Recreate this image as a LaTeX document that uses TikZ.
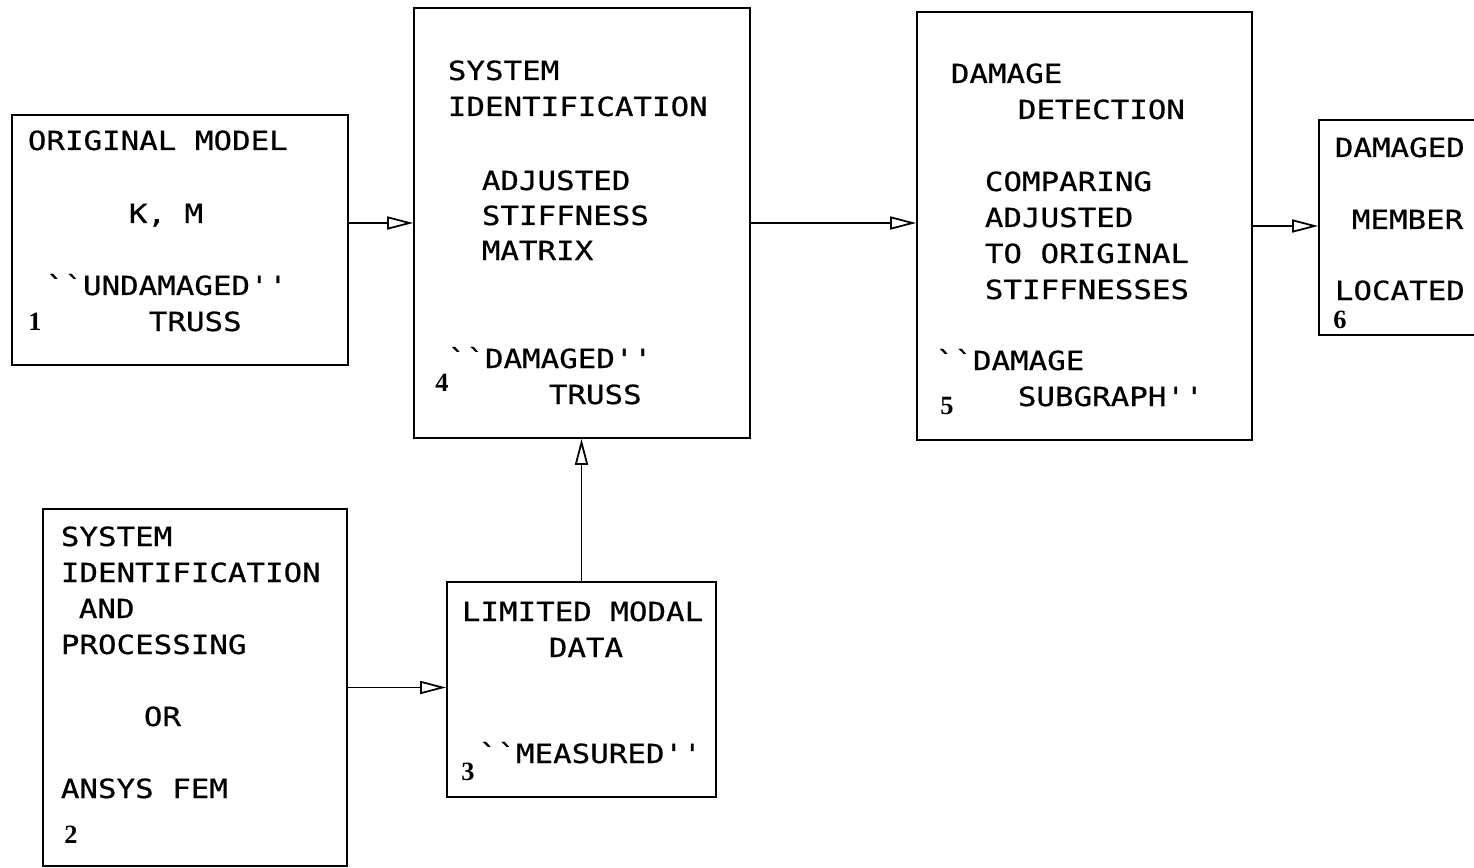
\documentclass[tikz,border=0pt]{standalone}
\usepackage{fontspec}
\usetikzlibrary{arrows.meta,positioning,calc}
\newfontfamily\plotfont{DejaVu Sans Mono}[Ligatures=TeXOff, FakeStretch=1.17, FakeBold=0.6]
\newfontfamily\numfont{Liberation Serif}

\begin{document}
\begin{tikzpicture}[x=0.02cm, y=-0.02cm, >={Triangle[open, length=0.52cm, width=0.26cm, line width=1pt]}, line width=1pt]

	\clip (0,0) rectangle (1474,868);

	\tikzstyle{box}=[draw=black, line width=1pt, inner sep=0pt]
	\tikzstyle{txt}=[anchor=base west, inner sep=0pt, font=\fontsize{15}{18}\plotfont]
	\tikzstyle{num}=[anchor=center, inner sep=0pt, font=\fontsize{15}{17}\numfont\bfseries]

	% the blocks
	\node[box, minimum width=6.72cm, minimum height=5.0cm]  (orig)    at (180, 240)    {};
	\node[box, minimum width=6.08cm, minimum height=7.14cm] (proc)    at (195, 687.5)  {};
	\node[box, minimum width=5.38cm, minimum height=4.3cm]  (modal)   at (581.5, 689.5) {};
	\node[box, minimum width=6.72cm, minimum height=8.6cm]  (sysid)   at (582, 223)    {};
	\node[box, minimum width=6.7cm,  minimum height=8.56cm] (detect)  at (1084.5, 226) {};
	\node[box, minimum width=4.8cm,  minimum height=4.3cm]  (located) at (1439, 227.5) {};

	% block 1
	\node[txt] (o1) at (27, 150)  {ORIGINAL MODEL};
	\node[txt] (o2) at (128, 223) {K, M};
	\node[txt] (o3) at (45, 295)  {``UNDAMAGED''};
	\node[txt] (o4) at (148, 331) {TRUSS};
	\node[num] (n1) at (35, 322)  {1};

	% block 2
	\node[txt] (p1) at (60, 546)  {SYSTEM};
	\node[txt] (p2) at (60, 582)  {IDENTIFICATION};
	\node[txt] (p3) at (78, 618)  {AND};
	\node[txt] (p4) at (60, 654)  {PROCESSING};
	\node[txt] (p5) at (143, 726) {OR};
	\node[txt] (p6) at (60, 798)  {ANSYS FEM};
	\node[num] (n2) at (71, 835)  {2};

	% block 3
	\node[txt] (m1) at (461, 621) {LIMITED MODAL};
	\node[txt] (m2) at (548, 657) {DATA};
	\node[txt] (m3) at (478, 763) {``MEASURED''};
	\node[num] (n3) at (468, 772) {3};

	% block 4
	\node[txt] (s1) at (447, 80)  {SYSTEM};
	\node[txt] (s2) at (447, 116) {IDENTIFICATION};
	\node[txt] (s3) at (481, 190) {ADJUSTED};
	\node[txt] (s4) at (481, 225) {STIFFNESS};
	\node[txt] (s5) at (481, 260) {MATRIX};
	\node[txt] (s6) at (447, 368) {``DAMAGED''};
	\node[txt] (s7) at (548, 404) {TRUSS};
	\node[num] (n4) at (442, 383) {4};

	% block 5
	\node[txt] (d1) at (950, 83)   {DAMAGE};
	\node[txt] (d2) at (1017, 119) {DETECTION};
	\node[txt] (d3) at (984, 191)  {COMPARING};
	\node[txt] (d4) at (984, 227)  {ADJUSTED};
	\node[txt] (d5) at (984, 263)  {TO ORIGINAL};
	\node[txt] (d6) at (984, 299)  {STIFFNESSES};
	\node[txt] (d7) at (935, 370)  {``DAMAGE};
	\node[txt] (d8) at (1017, 406) {SUBGRAPH''};
	\node[num] (n5) at (947, 406)  {5};

	% block 6
	\node[txt] (l1) at (1334, 157) {DAMAGED};
	\node[txt] (l2) at (1351, 229) {MEMBER};
	\node[txt] (l3) at (1334, 300) {LOCATED};
	\node[num] (n6) at (1340, 320) {6};

	% connections
	\draw[->] (orig.east |- sysid.west) -- (sysid.west);
	\draw[->] (sysid.east) -- (sysid.east -| detect.west);
	\draw[->] (detect.east) -- (detect.east -| located.west);
	\draw[->] (proc.east) -- (proc.east -| modal.west);
	\draw[->] (modal.north) -- (modal.north |- sysid.south);

\end{tikzpicture}
\end{document}
